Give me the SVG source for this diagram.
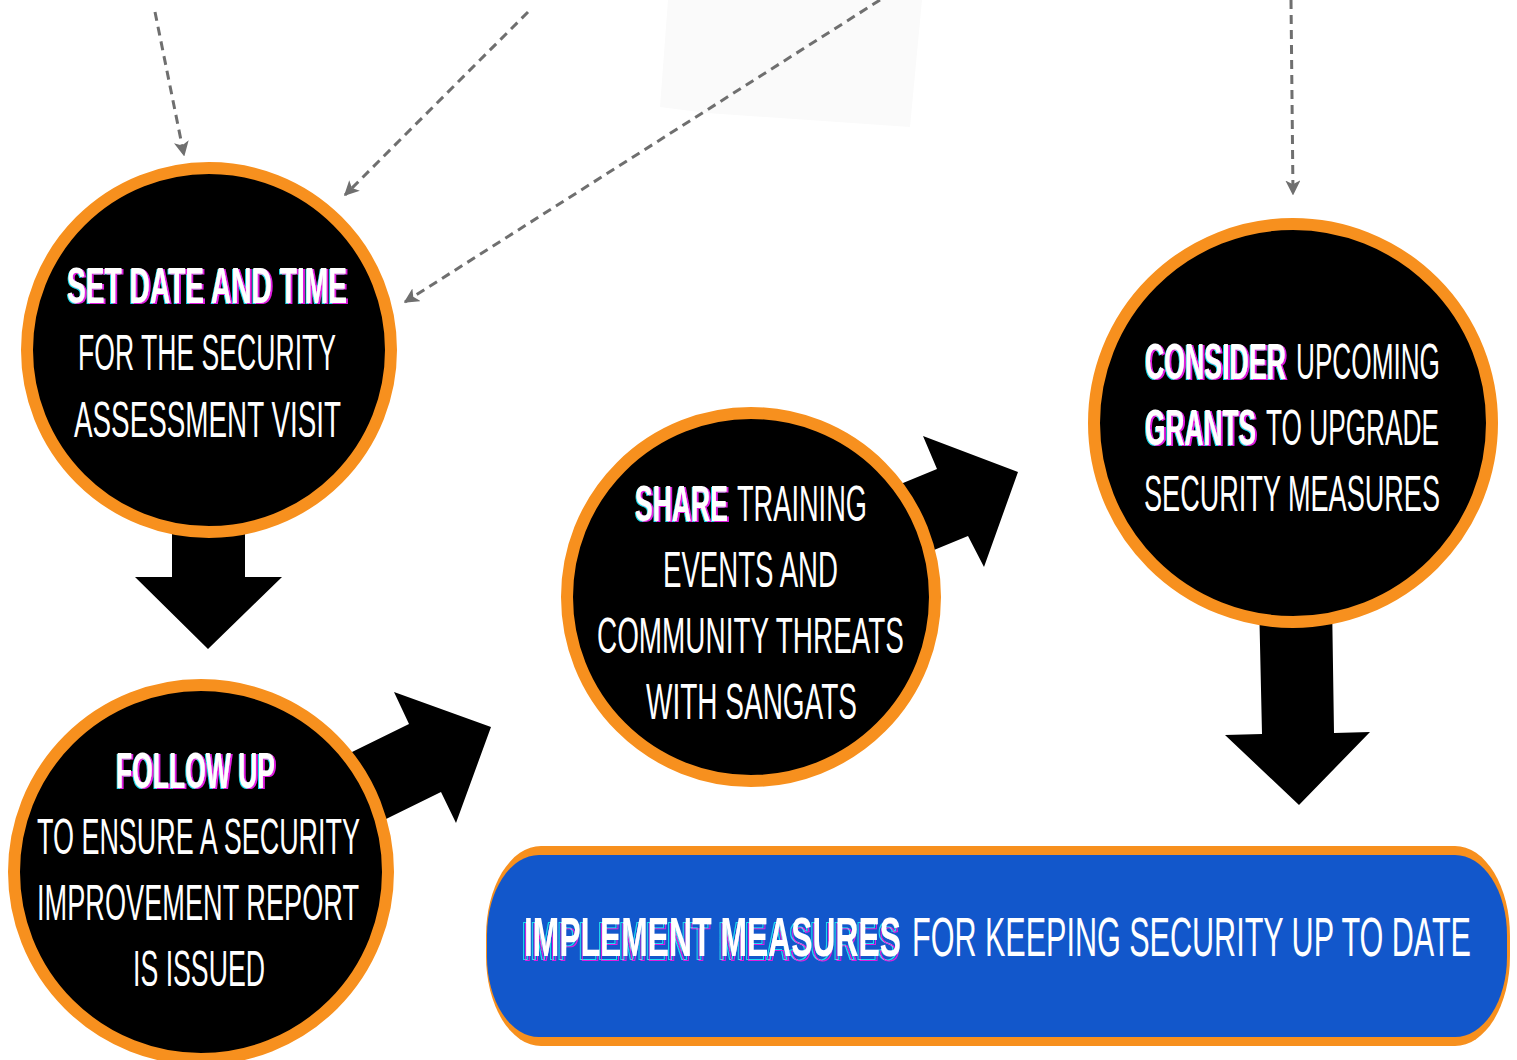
<svg xmlns="http://www.w3.org/2000/svg" width="1517" height="1060" viewBox="0 0 1517 1060">
  <style>
    .node-ring { fill: #000; stroke: #f7901e; stroke-width: 12; }
    /* tall condensed lettering: small font stretched vertically about its baseline */
    .txt { font-family: "Liberation Sans", Arial, sans-serif; fill: #fff; font-size: 27px; font-weight: 400; }
    .bold { font-weight: 700; filter: url(#rgbSplit); }
    .pill-txt { font-size: 30px; }
    .pill-bold { font-weight: 700; filter: url(#rgbOutline); }
    .dash { fill: none; stroke: #6f6f6f; stroke-width: 3; stroke-dasharray: 9 6; marker-end: url(#tip); }
    .block { fill: #000; }
  </style>
  <defs>
    <marker id="tip" viewBox="0 0 10 10" refX="9" refY="5" markerWidth="5" markerHeight="5" orient="auto" markerUnits="strokeWidth">
      <path d="M0,0 L10,5 L0,10 L2.5,5 z" fill="#6f6f6f"/>
    </marker>
    <!-- cyan / magenta split shadow behind emphasised words -->
    <filter id="rgbSplit" x="-5%" y="-20%" width="110%" height="140%">
      <feOffset in="SourceAlpha" dx="-1.5" dy="0.3" result="o1"/>
      <feFlood flood-color="#1fe0f0"/>
      <feComposite in2="o1" operator="in" result="cy"/>
      <feOffset in="SourceAlpha" dx="1.5" dy="0.3" result="o2"/>
      <feFlood flood-color="#e01ee0"/>
      <feComposite in2="o2" operator="in" result="mg"/>
      <feMerge>
        <feMergeNode in="cy"/>
        <feMergeNode in="mg"/>
        <feMergeNode in="SourceGraphic"/>
      </feMerge>
    </filter>
    <!-- offset outline echoes for the banner heading -->
    <filter id="rgbOutline" x="-5%" y="-20%" width="110%" height="150%">
      <feMorphology in="SourceAlpha" operator="erode" radius="0.7" result="er"/>
      <feComposite in="SourceAlpha" in2="er" operator="out" result="edge"/>
      <feOffset in="edge" dx="-3" dy="2.2" result="e1"/>
      <feFlood flood-color="#1fe0f0"/>
      <feComposite in2="e1" operator="in" result="cy"/>
      <feOffset in="edge" dx="-1" dy="2.8" result="e2"/>
      <feFlood flood-color="#e01ee0"/>
      <feComposite in2="e2" operator="in" result="mg"/>
      <feMerge>
        <feMergeNode in="cy"/>
        <feMergeNode in="mg"/>
        <feMergeNode in="SourceGraphic"/>
      </feMerge>
    </filter>
  </defs>

  <rect width="1517" height="1060" fill="#fff"/>

  <!-- faint backdrop panel -->
  <polygon points="668,0 922,0 910,127 707,113 660,107" fill="#fafafa"/>

  <g id="connectors">
    <line class="dash" x1="155" y1="12" x2="184" y2="155"/>
    <line class="dash" x1="528" y1="12" x2="345" y2="195"/>
    <line class="dash" x1="880" y1="0" x2="405" y2="302"/>
    <line class="dash" x1="1291" y1="0" x2="1293" y2="194"/>
    <!-- block arrows between the steps -->
    <polygon class="block" points="172,520 245,520 245,577 282,577 208,649 135,577 172,577"/>
    <polygon class="block" points="1259,600 1332,600 1334,733 1370,732 1299,805 1225,735 1262,734"/>
    <polygon class="block" points="869,497 937,469 923,436 1018,472 984,567 968,536 900,564"/>
    <polygon class="block" points="295,780 409,724 394,692 491,727 456,823 441,792 327,848"/>
  </g>

  <g id="node-set-date">
    <circle class="node-ring" cx="209" cy="350" r="182"/>
    <text class="txt bold" x="67" y="303" textLength="280" lengthAdjust="spacingAndGlyphs" transform="matrix(1 0 0 1.85 0 -257.55)">SET DATE AND TIME</text>
    <text class="txt" x="78" y="370" textLength="258" lengthAdjust="spacingAndGlyphs" transform="matrix(1 0 0 1.85 0 -314.5)">FOR THE SECURITY</text>
    <text class="txt" x="74" y="437" textLength="267" lengthAdjust="spacingAndGlyphs" transform="matrix(1 0 0 1.85 0 -371.45)">ASSESSMENT VISIT</text>
  </g>

  <g id="node-follow-up">
    <circle class="node-ring" cx="201" cy="872" r="187"/>
    <text class="txt bold" x="116" y="788" textLength="159" lengthAdjust="spacingAndGlyphs" transform="matrix(1 0 0 1.85 0 -669.8)">FOLLOW UP</text>
    <text class="txt" x="37" y="854" textLength="323" lengthAdjust="spacingAndGlyphs" transform="matrix(1 0 0 1.85 0 -725.9)">TO ENSURE A SECURITY</text>
    <text class="txt" x="37" y="920" textLength="322" lengthAdjust="spacingAndGlyphs" transform="matrix(1 0 0 1.85 0 -782)">IMPROVEMENT REPORT</text>
    <text class="txt" x="133" y="986" textLength="132" lengthAdjust="spacingAndGlyphs" transform="matrix(1 0 0 1.85 0 -838.1)">IS ISSUED</text>
  </g>

  <g id="node-share">
    <circle class="node-ring" cx="751" cy="597" r="184"/>
    <text class="txt bold" x="635" y="521" textLength="93" lengthAdjust="spacingAndGlyphs" transform="matrix(1 0 0 1.85 0 -442.85)">SHARE</text>
    <text class="txt" x="737" y="521" textLength="130" lengthAdjust="spacingAndGlyphs" transform="matrix(1 0 0 1.85 0 -442.85)">TRAINING</text>
    <text class="txt" x="663" y="587" textLength="175" lengthAdjust="spacingAndGlyphs" transform="matrix(1 0 0 1.85 0 -498.95)">EVENTS AND</text>
    <text class="txt" x="597" y="653" textLength="307" lengthAdjust="spacingAndGlyphs" transform="matrix(1 0 0 1.85 0 -555.05)">COMMUNITY THREATS</text>
    <text class="txt" x="646" y="719" textLength="211" lengthAdjust="spacingAndGlyphs" transform="matrix(1 0 0 1.85 0 -611.15)">WITH SANGATS</text>
  </g>

  <g id="node-consider">
    <circle class="node-ring" cx="1293" cy="423" r="199"/>
    <text class="txt bold" x="1145" y="379" textLength="141" lengthAdjust="spacingAndGlyphs" transform="matrix(1 0 0 1.85 0 -322.15)">CONSIDER</text>
    <text class="txt" x="1296" y="379" textLength="144" lengthAdjust="spacingAndGlyphs" transform="matrix(1 0 0 1.85 0 -322.15)">UPCOMING</text>
    <text class="txt bold" x="1145" y="445" textLength="111" lengthAdjust="spacingAndGlyphs" transform="matrix(1 0 0 1.85 0 -378.25)">GRANTS</text>
    <text class="txt" x="1266" y="445" textLength="173" lengthAdjust="spacingAndGlyphs" transform="matrix(1 0 0 1.85 0 -378.25)">TO UPGRADE</text>
    <text class="txt" x="1144" y="511" textLength="296" lengthAdjust="spacingAndGlyphs" transform="matrix(1 0 0 1.85 0 -434.35)">SECURITY MEASURES</text>
  </g>

  <g id="node-implement">
    <rect x="486" y="846" width="1024" height="200" rx="55" ry="90" fill="#f7901e"/>
    <rect x="487" y="855" width="1020" height="182" rx="52" ry="80" fill="#1257cb"/>
    <text class="txt pill-txt pill-bold" x="524" y="956" textLength="377" lengthAdjust="spacingAndGlyphs" transform="matrix(1 0 0 1.867 0 -828.85)">IMPLEMENT MEASURES</text>
    <text class="txt pill-txt" x="912" y="956" textLength="559" lengthAdjust="spacingAndGlyphs" transform="matrix(1 0 0 1.867 0 -828.85)">FOR KEEPING SECURITY UP TO DATE</text>
  </g>
</svg>
